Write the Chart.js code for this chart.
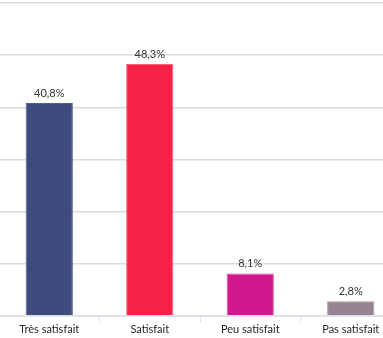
<!DOCTYPE html>
<html lang="fr">
<head>
    <meta charset="UTF-8">
    <title>Satisfaction</title>
    <script src="https://cdn.jsdelivr.net/npm/chart.js"></script>
    <style>
        html, body {
            margin: 0;
            padding: 0;
            background: #ffffff;
            overflow: hidden;
        }
        .chart-wrap {
            position: absolute;
            left: -1px;
            top: 0;
            width: 402px;
            height: 338px;
        }
    </style>
</head>
<body>
    <div class="chart-wrap">
        <canvas id="satisfaction-chart"></canvas>
    </div>

    <script>
        // Données
        const categories = ['Très satisfait', 'Satisfait', 'Peu satisfait', 'Pas satisfait'];
        const pourcentages = [40.8, 48.3, 8.1, 2.8];
        const couleurs = ['#3e4c7d', '#f62248', '#d1188d', '#958390'];
        const bordures = ['#52608f', '#f9637e', '#d94ea5', '#a797a3'];
        const graduations = [0, 10, 20, 30, 40, 50, 60];

        const policeTexte = "'Lato', 'DejaVu Sans', sans-serif";

        // Étiquettes de valeur au-dessus des barres
        const etiquettesValeurs = {
            id: 'etiquettesValeurs',
            afterDatasetsDraw(chart) {
                const ctx = chart.ctx;
                const meta = chart.getDatasetMeta(0);
                ctx.save();
                ctx.font = '11px ' + policeTexte;
                ctx.fillStyle = '#333333';
                ctx.textAlign = 'center';
                ctx.textBaseline = 'middle';
                meta.data.forEach((bar, i) => {
                    const texte = pourcentages[i].toFixed(1).replace('.', ',') + '%';
                    ctx.fillText(texte, bar.x, bar.y - 10);
                });
                ctx.restore();
            }
        };

        const ctx = document.getElementById('satisfaction-chart').getContext('2d');
        new Chart(ctx, {
            type: 'bar',
            data: {
                labels: categories,
                datasets: [{
                    data: pourcentages,
                    backgroundColor: couleurs,
                    borderColor: bordures,
                    borderWidth: 1,
                    categoryPercentage: 1,
                    barPercentage: 0.47
                }]
            },
            options: {
                responsive: true,
                maintainAspectRatio: false,
                animation: false,
                layout: {
                    padding: { top: 3, bottom: 2, left: 0, right: 0 }
                },
                plugins: {
                    legend: { display: false },
                    tooltip: { enabled: false }
                },
                scales: {
                    x: {
                        grid: {
                            drawOnChartArea: false,
                            drawTicks: true,
                            tickLength: 7,
                            color: '#d9dde8'
                        },
                        border: { color: '#d9dde8', width: 1.5 },
                        ticks: {
                            padding: 0,
                            color: '#262626',
                            font: { family: policeTexte, size: 11 }
                        }
                    },
                    y: {
                        min: graduations[0],
                        max: graduations[graduations.length - 1],
                        afterBuildTicks(scale) {
                            scale.ticks = graduations.map(v => ({ value: v }));
                        },
                        ticks: { display: false },
                        border: { display: false },
                        grid: {
                            drawTicks: false,
                            color: '#dadada',
                            lineWidth: 1.5
                        }
                    }
                }
            },
            plugins: [etiquettesValeurs]
        });
    </script>
</body>
</html>
